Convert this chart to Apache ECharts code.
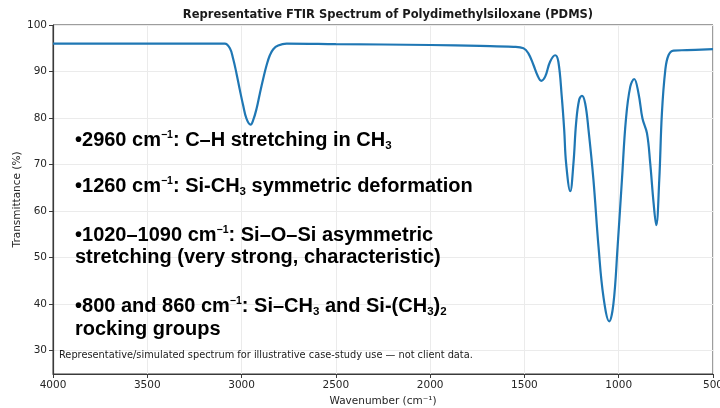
<!DOCTYPE html>
<html>
<head>
<meta charset="utf-8">
<script src="https://cdn.jsdelivr.net/npm/echarts@6/dist/echarts.min.js"></script>
<style>
html,body{margin:0;padding:0;background:#fff;}
#chart{width:720px;height:408px;}
</style>
</head>
<body>
<div id="chart"></div>
<script>
// ---- data ----
const wavenumbers = [4000, 3500, 3100, 3089, 3062, 3045, 3027, 3009, 2992, 2974,
  2952, 2938, 2920, 2903, 2885, 2867, 2850, 2832, 2806, 2761,
  2500, 2000, 1735, 1558, 1505, 1479, 1452, 1431, 1411, 1390,
  1364, 1337, 1320, 1302, 1289, 1279, 1257, 1240, 1226, 1210,
  1195, 1178, 1160, 1134, 1107, 1081, 1050, 1028, 1006, 983,
  962, 939, 918, 895, 874, 850, 833, 815, 801, 785,
  771, 753, 736, 709, 638, 500];
const transmittance = [96.0, 96.0, 96.0, 96.0, 95.0, 92.8, 89.6, 86.0, 82.8, 79.9,
  78.6, 79.6, 82.1, 85.3, 88.5, 91.4, 93.5, 94.8, 95.6, 96.0,
  95.9, 95.7, 95.5, 95.3, 95.0, 93.9, 91.4, 89.2, 88.0, 88.9,
  92.1, 93.5, 92.1, 84.6, 77.4, 70.3, 64.3, 70.3, 78.9, 83.9,
  84.8, 83.2, 77.4, 66.7, 52.3, 41.6, 36.3, 40.1, 52.3, 66.7,
  79.6, 86.7, 88.4, 85.3, 79.9, 76.7, 70.3, 61.7, 57.0, 66.7,
  81.0, 90.3, 93.5, 94.5, 94.6, 94.8];
const yTicks = [30, 40, 50, 60, 70, 80, 90, 100];
const titleText = 'Representative FTIR Spectrum of Polydimethylsiloxane (PDMS)';
const xName = 'Wavenumber (cm\u207B\u00B9)';
const yName = 'Transmittance (%)';
const footnote = 'Representative/simulated spectrum for illustrative case-study use \u2014 not client data.';
const notes = [
  '{b|\u20222960 cm}{sup|\u22121}{b|: C\u2013H stretching in CH}{sub|3}',
  '{b|\u20221260 cm}{sup|\u22121}{b|: Si-CH}{sub|3}{b| symmetric deformation}',
  '{b|\u20221020\u20131090 cm}{sup|\u22121}{b|: Si\u2013O\u2013Si asymmetric}\n{b|stretching (very strong, characteristic)}',
  '{b|\u2022800 and 860 cm}{sup|\u22121}{b|: Si\u2013CH}{sub|3}{b| and Si-(CH}{sub|3}{b|)}{sub|2}\n{b|rocking groups}'
];

const seriesData = wavenumbers.map((w, i) => [w, transmittance[i]]);

const chart = echarts.init(document.getElementById('chart'), null, {renderer: 'canvas'});
const tickFont = {fontFamily: 'DejaVu Sans', fontSize: 10.5, color: '#262626'};
const FF = 'Liberation Sans';
const richStyle = {
  b: {fontFamily: FF, fontWeight: 'bold', fontSize: 20, lineHeight: 22.3, fill: '#000', color: '#000'},
  sup: {fontFamily: FF, fontWeight: 'bold', fontSize: 10.5, lineHeight: 17, verticalAlign: 'top', fill: '#000', color: '#000'},
  sub: {fontFamily: FF, fontWeight: 'bold', fontSize: 11.5, lineHeight: 13, verticalAlign: 'bottom', fill: '#000', color: '#000'}
};
const noteY = [140.5, 186.5, 246.5, 318];

chart.setOption({
  animation: false,
  title: {
    text: titleText, left: 383, top: 4, textAlign: 'center',
    textStyle: {fontFamily: 'DejaVu Sans', fontWeight: 'bold', fontSize: 11.5, color: '#1a1a1a'}
  },
  grid: {left: 53, right: 7, top: 25, bottom: 34, outerBoundsMode: 'none', containLabel: false,
    show: true, borderColor: '#3a3a3a', borderWidth: 1, backgroundColor: 'transparent'},
  xAxis: {
    type: 'value', inverse: true, min: 500, max: 4000, interval: 500,
    name: xName, nameLocation: 'middle', nameGap: 21,
    nameTextStyle: {fontFamily: 'DejaVu Sans', fontSize: 10.5, color: '#262626'},
    axisLine: {show: true, lineStyle: {color: '#3a3a3a', width: 1.2}},
    axisTick: {show: true, length: 4, lineStyle: {color: '#3a3a3a'}},
    axisLabel: Object.assign({margin: 6, showMinLabel: true, showMaxLabel: true,
      alignMinLabel: 'center', alignMaxLabel: 'center', formatter: v => String(v)}, tickFont),
    splitLine: {show: true, lineStyle: {color: '#ebebeb', width: 1}}
  },
  yAxis: {
    type: 'value', min: 25, max: 100,
    axisLine: {show: true, lineStyle: {color: '#3a3a3a', width: 1.2}},
    axisTick: {show: true, length: 4, customValues: yTicks, lineStyle: {color: '#3a3a3a'}},
    axisLabel: Object.assign({margin: 6, customValues: yTicks}, tickFont),
    splitLine: {show: true, lineStyle: {color: '#ebebeb', width: 1}}
  },
  series: [{
    type: 'line', data: seriesData, showSymbol: false, smooth: 0.4,
    lineStyle: {color: '#1f77b4', width: 2.2}, z: 3
  }],
  graphic: notes.map((t, i) => ({
    type: 'text', x: 75, y: noteY[i], z: 10,
    style: {text: t, rich: richStyle, verticalAlign: 'middle', align: 'left',
      fontFamily: FF, fontWeight: 'bold', fontSize: 20, fill: '#000'}
  })).concat([{
    type: 'text', x: 59, y: 355, z: 10,
    style: {text: footnote, fontFamily: 'DejaVu Sans', fontSize: 9.8, fill: '#1a1a1a', verticalAlign: 'middle'}
  }, {
    type: 'text', x: 17, y: 199.5, rotation: Math.PI / 2, z: 10,
    style: {text: yName, fontFamily: 'DejaVu Sans', fontSize: 10.5, fill: '#262626', align: 'center', verticalAlign: 'middle'}
  }])
});
</script>
</body>
</html>
